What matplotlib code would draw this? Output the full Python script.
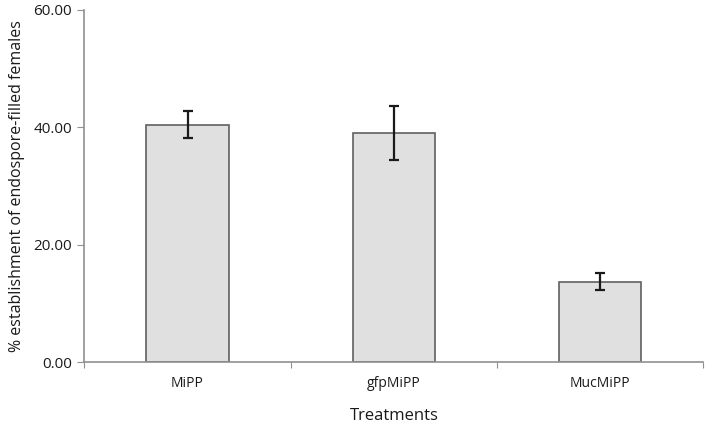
import numpy as np
import matplotlib.pyplot as plt

treatments = ["MiPP", "gfpMiPP", "MucMiPP"]
establishment = [40.4, 39.0, 13.7]
std_err = [2.3, 4.6, 1.5]

plt.rcParams['font.family'] = ['Open Sans', 'DejaVu Sans']

fig = plt.figure(figsize=(7.09, 4.28), dpi=100)
ax = fig.add_axes([0.119, 0.154, 0.873, 0.823])

x = np.arange(len(treatments)) + 0.5
ax.bar(x, establishment, width=0.4, color="#e0e0e0", edgecolor="#606060", linewidth=1.2)
ax.errorbar(x, establishment, yerr=std_err, fmt="none", ecolor="#1a1a1a",
            elinewidth=1.6, capsize=3.6, capthick=1.6)

ax.set_xlim(0, len(treatments))
ax.set_ylim(0, 60)
ax.set_yticks([0, 20, 40, 60])
ax.set_yticklabels(["%.2f" % v for v in [0, 20, 40, 60]], fontsize=11, color="#1a1a1a")

# category labels between the boundary ticks
ax.set_xticks(np.arange(len(treatments) + 1))
ax.set_xticklabels([])
ax.set_xticks(x, minor=True)
ax.set_xticklabels(treatments, minor=True, fontsize=10, color="#1a1a1a")
ax.tick_params(axis="x", which="minor", length=0, pad=10)
ax.tick_params(axis="x", which="major", length=4, color="#909090")
ax.tick_params(axis="y", length=5, color="#909090", pad=4)

for side in ["top", "right"]:
    ax.spines[side].set_visible(False)
for side in ["left", "bottom"]:
    ax.spines[side].set_color("#909090")
    ax.spines[side].set_linewidth(1.2)

ax.set_xlabel("Treatments", fontsize=12, labelpad=12, color="#1a1a1a")
ax.set_ylabel("% establishment of endospore-filled females", fontsize=11.5,
              labelpad=6, color="#1a1a1a")

fig.savefig("out.png", dpi=100)
